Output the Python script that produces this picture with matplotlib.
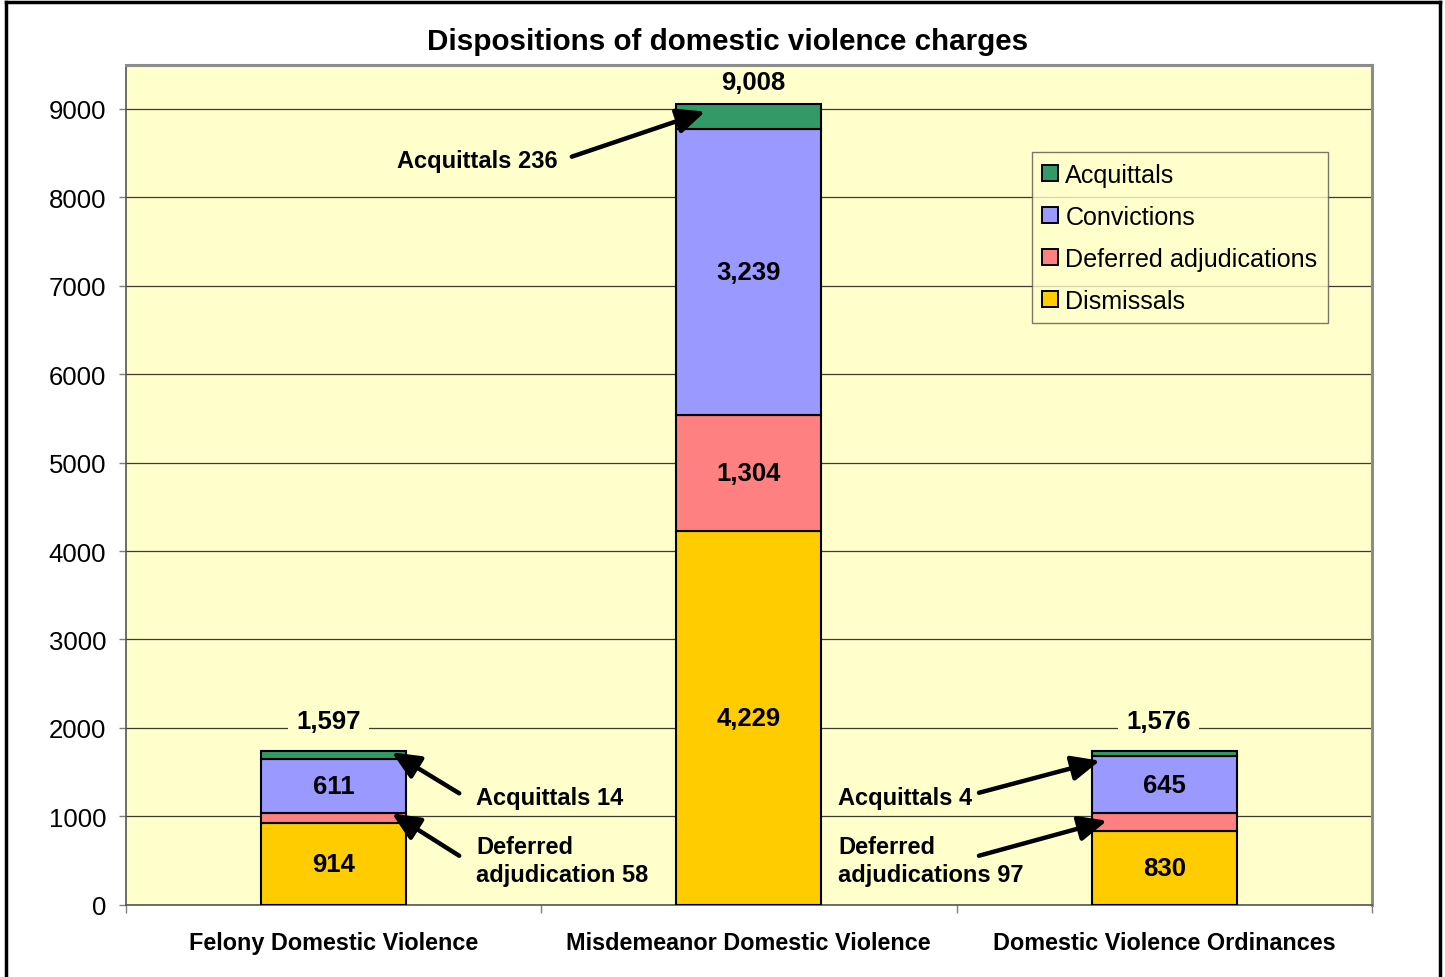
import numpy as np
import matplotlib
matplotlib.use("Agg")
import matplotlib.pyplot as plt
from matplotlib.patches import FancyArrowPatch, Rectangle
from matplotlib.lines import Line2D


CATEGORIES = ["Felony Domestic Violence", "Misdemeanor Domestic Violence", "Domestic Violence Ordinances"]
SERIES = ["Dismissals", "Deferred adjudications", "Convictions", "Acquittals"]

# bar heights as drawn in the chart (small segments are drawn wider than their labels)
DISMISSALS = [921, 4229, 830]
DEFERRED = [113, 1304, 204]
CONVICTIONS = [611, 3239, 651]
ACQUITTALS = [94, 283, 57]

# printed labels
INSIDE_LABELS = {
    "Dismissals": ["914", "4,229", "830"],
    "Deferred adjudications": [None, "1,304", None],
    "Convictions": ["611", "3,239", "645"],
}
TOTAL_LABELS = ["1,597", "9,008", "1,576"]

COLORS = {
    "Acquittals": "#339966",
    "Convictions": "#9999FF",
    "Deferred adjudications": "#FF8080",
    "Dismissals": "#FFCC00",
}
BG = "#FFFFCC"

plt.rcParams["font.family"] = ["Liberation Sans", "DejaVu Sans"]

fig = plt.figure(figsize=(14.45, 9.78), dpi=100)
ax = fig.add_axes([0.0869, 0.0739, 0.9495 - 0.0869, 0.9328 - 0.0739])
ax.set_facecolor(BG)

x = np.arange(len(CATEGORIES))
width = 0.349
values = {
    "Dismissals": np.array(DISMISSALS),
    "Deferred adjudications": np.array(DEFERRED),
    "Convictions": np.array(CONVICTIONS),
    "Acquittals": np.array(ACQUITTALS),
}
bottom = np.zeros(len(CATEGORIES))
for name in SERIES:
    v = values[name]
    ax.bar(x, v, width, bottom=bottom, color=COLORS[name], edgecolor="black",
           linewidth=1.5, zorder=3)
    labels = INSIDE_LABELS.get(name)
    if labels:
        for i, lab in enumerate(labels):
            if lab:
                ax.text(x[i], bottom[i] + v[i] / 2, lab, ha="center", va="center",
                        fontsize=18.5, fontweight="bold", zorder=5)
    bottom = bottom + v

# totals above bars (the small ones sit on the 2000 gridline, masked by a box)
total_y = [2075, 9300, 2075]
total_x = [-0.012, 1.01, 1.987]
for i, lab in enumerate(TOTAL_LABELS):
    box = None if i == 1 else dict(facecolor=BG, edgecolor="none", pad=6)
    ax.text(total_x[i], total_y[i], lab, ha="center", va="center", fontsize=18.5,
            fontweight="bold", zorder=5, bbox=box)

# call-outs for the thin segments
notes = [
    ("Acquittals 14", 0.344, 1208, "left", (0.303, 1260), (0.141, 1724)),
    ("Deferred\nadjudication 58", 0.344, 500, "left", (0.303, 554), (0.141, 1034)),
    ("Acquittals 236", 0.541, 8412, "right", (0.574, 8460), (0.895, 8970)),
    ("Acquittals 4", 1.215, 1208, "left", (1.554, 1266), (1.845, 1629)),
    ("Deferred\nadjudications 97", 1.215, 500, "left", (1.554, 554), (1.862, 950)),
]
for text, tx, ty, ha, tail, head in notes:
    ax.text(tx, ty, text, ha=ha, va="center", fontsize=17, fontweight="bold",
            linespacing=1.3, zorder=6)
    ax.add_patch(FancyArrowPatch(tail, head, arrowstyle="-|>,head_length=0.85,head_width=0.38",
                                 mutation_scale=20, color="black", linewidth=3.2,
                                 shrinkA=0, shrinkB=0, zorder=6))

ax.set_xlim(-0.5, 2.5)
ax.set_ylim(0, 9500)
ax.set_yticks(np.arange(0, 9001, 1000))
ax.yaxis.grid(True, color="#3c3c30", linewidth=0.9, zorder=1)
ax.set_axisbelow(True)
ax.tick_params(axis="y", labelsize=18.5, length=5, width=1, color="#808080", pad=9)

ax.set_xticks(x)
ax.set_xticklabels(CATEGORIES, fontsize=16.8, fontweight="bold")
ax.set_xticks([-0.5, 0.5, 1.5, 2.5], minor=True)
ax.tick_params(axis="x", which="major", length=0, pad=19)
ax.tick_params(axis="x", which="minor", length=6, width=1, color="#808080")

for side in ["top", "right"]:
    ax.spines[side].set_color("#8c8c8c")
    ax.spines[side].set_linewidth(2.2)
for side in ["left", "bottom"]:
    ax.spines[side].set_color("#555555")
    ax.spines[side].set_linewidth(1.2)

legend_order = ["Acquittals", "Convictions", "Deferred adjudications", "Dismissals"]
handles = [Rectangle((0, 0), 1, 1, facecolor=COLORS[n], edgecolor="black", linewidth=1.4)
           for n in legend_order]
leg = ax.legend(handles, legend_order,
                loc="upper left", bbox_to_anchor=(0.727, 0.896), fontsize=18.1,
                frameon=True, fancybox=False, handlelength=0.62, handleheight=0.62,
                handletextpad=0.3, labelspacing=0.72, borderpad=0.42, borderaxespad=0)
leg.get_frame().set_facecolor(BG)
leg.get_frame().set_edgecolor("#555555")
leg.get_frame().set_linewidth(1.0)
leg.set_zorder(7)

fig.text(0.5038, 0.957, "Dispositions of domestic violence charges", ha="center", va="center",
         fontsize=21.3, fontweight="bold")

# outer frame of the chart object
for xs, ys in [([0.0042, 0.0042], [0, 0.997]), ([0.0042, 0.9965], [0.997, 0.997]),
               ([0.9965, 0.9965], [0, 0.997])]:
    fig.add_artist(Line2D(xs, ys, color="black", linewidth=2.5, transform=fig.transFigure))

fig.savefig("out.png", dpi=100)
